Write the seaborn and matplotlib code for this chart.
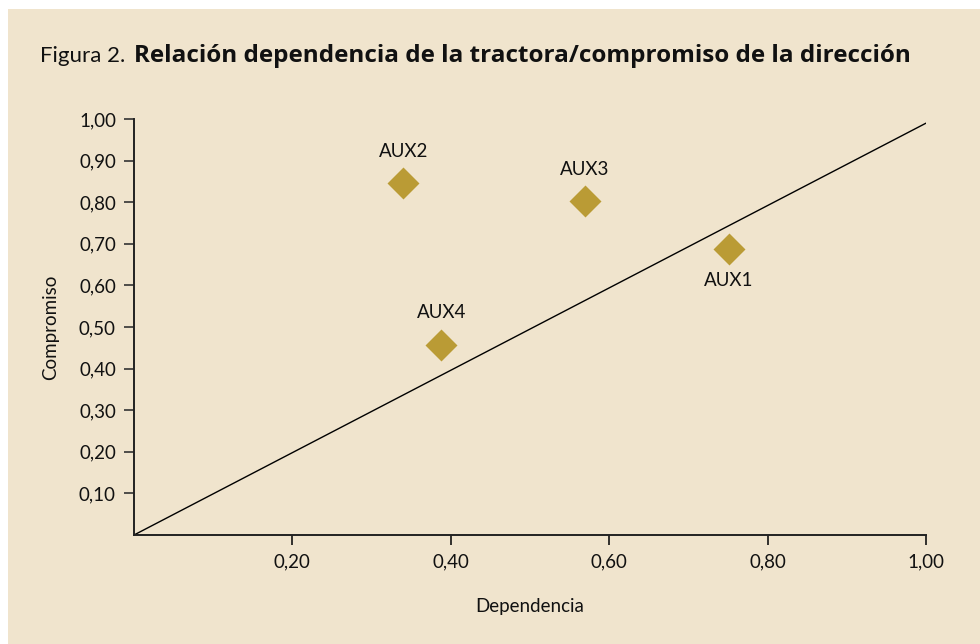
import matplotlib

matplotlib.use("Agg")
import matplotlib.pyplot as plt
from matplotlib.patches import Rectangle
from matplotlib.ticker import FuncFormatter
import pandas as pd
import seaborn as sns

# Data
names = ["AUX1", "AUX2", "AUX3", "AUX4"]
dependencia = [0.751, 0.340, 0.569, 0.388]
compromiso = [0.688, 0.846, 0.803, 0.457]
label_below = [True, False, False, False]

# Reference diagonal
line_x = [0.0, 1.0]
line_y = [0.0, 0.99]

x_ticks = [0.2, 0.4, 0.6, 0.8, 1.0]
y_ticks = [0.1, 0.2, 0.3, 0.4, 0.5, 0.6, 0.7, 0.8, 0.9, 1.0]

BG = "#F0E4CD"
GOLD = "#BA9B35"

sns.set_style("ticks")
plt.rcParams["font.family"] = ["Lato", "DejaVu Sans"]

df = pd.DataFrame({"Dependencia": dependencia, "Compromiso": compromiso})

fig = plt.figure(figsize=(9.8, 6.44), dpi=100)
fig.patch.set_facecolor("white")
fig.patches.append(
    Rectangle((8 / 980, 0), 1, 1 - 9 / 644, transform=fig.transFigure,
              facecolor=BG, edgecolor="none", zorder=-5)
)

ax = fig.add_axes([134 / 980, 1 - 535 / 644, 792 / 980, 416 / 644])
ax.set_facecolor(BG)

sns.lineplot(x=line_x, y=line_y, ax=ax, color="black", linewidth=1.0)
sns.scatterplot(data=df, x="Dependencia", y="Compromiso", ax=ax, marker="D",
                s=265, color=GOLD, linewidth=0, zorder=3)

for name, x, y, below in zip(names, dependencia, compromiso, label_below):
    ax.annotate(name, (x, y), xytext=(0, -23 if below else 23),
                textcoords="offset points", ha="center", va="center",
                fontsize=13.5, color="#111111")

ax.set_xlim(0, 1)
ax.set_ylim(0, 1)
ax.set_xticks(x_ticks)
ax.set_yticks(y_ticks)
fmt = FuncFormatter(lambda v, _: f"{v:.2f}".replace(".", ","))
ax.xaxis.set_major_formatter(fmt)
ax.yaxis.set_major_formatter(fmt)
ax.tick_params(axis="both", direction="out", length=7, width=1.2,
               labelsize=13.5, colors="#111111", pad=6)
ax.tick_params(axis="y", color="#333333")

sns.despine(ax=ax)
for side in ["left", "bottom"]:
    ax.spines[side].set_linewidth(1.4)
    ax.spines[side].set_color("#222222")

ax.set_xlabel("Dependencia", fontsize=13.5, labelpad=20, color="#111111")
ax.set_ylabel("Compromiso", fontsize=13.5, labelpad=14, color="#111111")

fig.text(40 / 980, 1 - 56 / 644, "Figura 2.", fontsize=16, va="center",
         ha="left", color="#111111")
fig.text(134 / 980, 1 - 56 / 644,
         "Relación dependencia de la tractora/compromiso de la dirección",
         fontsize=17.5, fontweight="bold", va="center", ha="left",
         family=["Open Sans", "DejaVu Sans"], color="#111111")

fig.savefig("out.png", dpi=100, facecolor=fig.get_facecolor())
